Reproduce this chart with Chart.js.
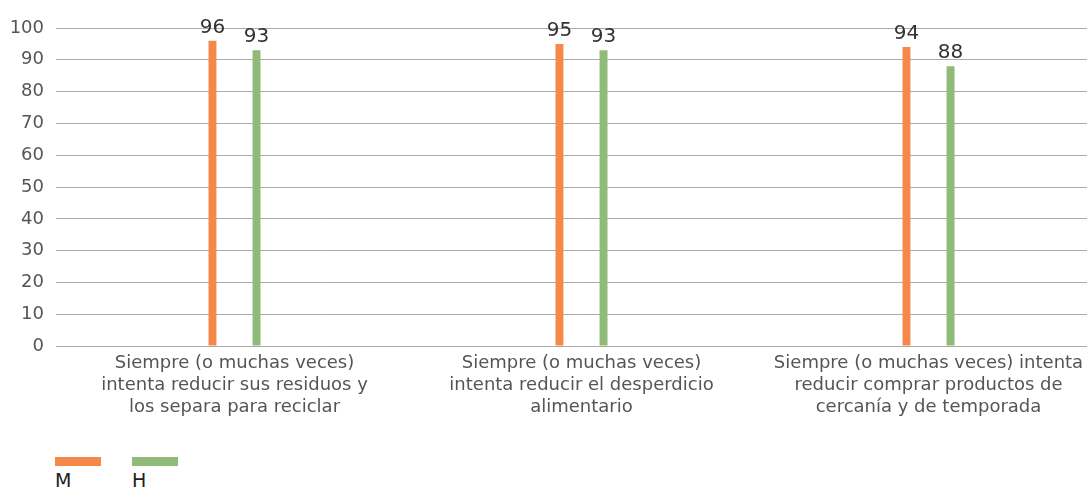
<!DOCTYPE html>
<html>
<head>
<meta charset="utf-8">
<script src="https://cdn.jsdelivr.net/npm/chart.js@4/dist/chart.umd.min.js"></script>
<style>
  html, body { margin: 0; padding: 0; background: #fff; overflow: hidden; }
  #wrap { position: relative; width: 1102px; height: 424px; }
  #legend { position: absolute; left: 53px; top: 457px; font-family: "DejaVu Sans", sans-serif; font-size: 19px; color: #222; }
  .item { position: absolute; top: 0; }
  .swatch { width: 46px; height: 9px; }
  .lab { margin-top: 3px; }
</style>
</head>
<body>
<div id="wrap"><canvas id="chart"></canvas></div>
<div id="legend"></div>
<script>
const categories = [
    ["Siempre (o muchas veces)", "intenta reducir sus residuos y", "los separa para reciclar"],
    ["Siempre (o muchas veces)", "intenta reducir el desperdicio", "alimentario"],
    ["Siempre (o muchas veces) intenta", "reducir comprar productos de", "cercanía y de temporada"]
];
const seriesNames = ["M", "H"];
const valuesM = [96, 95, 94];
const valuesH = [93, 93, 88];
const seriesColors = ["#F5894A", "#90BA78"];
const yTicks = [0, 10, 20, 30, 40, 50, 60, 70, 80, 90, 100];

const fontFamily = "DejaVu Sans, sans-serif";

// draw value labels above the bars
const valueLabels = {
    id: "valueLabels",
    afterDatasetsDraw(chart) {
        const ctx = chart.ctx;
        ctx.save();
        ctx.font = "20px " + fontFamily;
        ctx.fillStyle = "#333";
        ctx.textAlign = "center";
        ctx.textBaseline = "bottom";
        chart.data.datasets.forEach((ds, i) => {
            chart.getDatasetMeta(i).data.forEach((bar, j) => {
                ctx.fillText(ds.data[j], bar.x, bar.y - 3);
            });
        });
        ctx.restore();
    }
};

const ctx = document.getElementById("chart").getContext("2d");
new Chart(ctx, {
    type: "bar",
    data: {
        labels: categories,
        datasets: [
            { label: seriesNames[0], data: valuesM, backgroundColor: seriesColors[0] },
            { label: seriesNames[1], data: valuesH, backgroundColor: seriesColors[1] }
        ]
    },
    options: {
        responsive: true,
        maintainAspectRatio: false,
        animation: false,
        layout: { padding: { top: 28, right: 0, bottom: 0, left: 0 } },
        datasets: { bar: { categoryPercentage: 0.254, barPercentage: 0.18 } },
        plugins: { legend: { display: false }, tooltip: { enabled: false } },
        scales: {
            x: {
                grid: { display: false, drawTicks: false },
                border: { display: false },
                ticks: {
                    font: { family: fontFamily, size: 18, lineHeight: 1.22 },
                    color: "#555",
                    padding: 6,
                    maxRotation: 0,
                    autoSkip: false
                }
            },
            y: {
                min: 0,
                max: 100,
                afterFit(scale) { scale.width = 61; },
                afterBuildTicks(scale) { scale.ticks = yTicks.map(v => ({ value: v })); },
                grid: { color: "#ababab", lineWidth: 1, tickLength: 5, drawTicks: true },
                border: { display: false },
                ticks: {
                    font: { family: fontFamily, size: 18 },
                    color: "#555",
                    padding: 12
                }
            }
        }
    },
    plugins: [valueLabels]
});

// legend
const legend = document.getElementById("legend");
seriesNames.forEach((name, i) => {
    const item = document.createElement("div");
    item.className = "item";
    item.style.left = (i * 77 + 2) + "px";
    item.innerHTML = '<div class="swatch" style="background:' + seriesColors[i] + '"></div><div class="lab">' + name + '</div>';
    legend.appendChild(item);
});
</script>
</body>
</html>
